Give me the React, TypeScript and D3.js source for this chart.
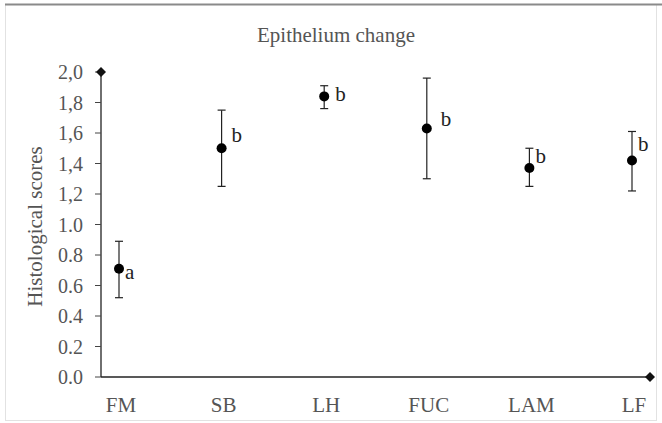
import React from "react";
import * as d3 from "d3";

const categories = ["FM", "SB", "LH", "FUC", "LAM", "LF"];
const means = [0.71, 1.5, 1.84, 1.63, 1.37, 1.42];
const lower = [0.52, 1.25, 1.76, 1.3, 1.25, 1.22];
const upper = [0.89, 1.75, 1.91, 1.96, 1.5, 1.61];
const letters = ["a", "b", "b", "b", "b", "b"];
const tickValues = [0, 0.2, 0.4, 0.6, 0.8, 1.0, 1.2, 1.4, 1.6, 1.8, 2.0];
const tickLabels = ["0.0", "0.2", "0.4", "0.6", "0.8", "1.0", "1,2", "1,4", "1,6", "1,8", "2,0"];
const title = "Epithelium change";
const yTitle = "Histological scores";

// letter offsets relative to dot (dx to left edge, dy to baseline)
const letterOffsets: [number, number][] = [
  [6, 10],
  [10, -6],
  [11, 5],
  [14, -2],
  [6, -5],
  [6, -9],
];

export default function App() {
  const W = 662, H = 423;
  const axisX = 101, axisRight = 650;
  const y = d3.scaleLinear().domain([0, 2]).range([377, 72]);
  const x = d3.scalePoint<string>().domain(categories).range([119, 632]);
  const font = "'Liberation Serif', 'Times New Roman', serif";
  const textColor = "#555";
  const diamond = (cx: number, cy: number, r: number) =>
    `M${cx},${cy - r}L${cx + r},${cy}L${cx},${cy + r}L${cx - r},${cy}Z`;

  return (
    <div style={{ position: "absolute", left: 0, top: 0 }}>
      <svg width={W} height={H} style={{ display: "block", background: "#fff" }}>
        {/* frame */}
        <rect x={5.5} y={4.5} width={651} height={416} fill="none" stroke="#e2e2e2" strokeWidth={1} />
        <line x1={5} x2={662} y1={4.5} y2={4.5} stroke="#8a8a8a" strokeWidth={2} />

        <text x={336} y={42} textAnchor="middle" fontFamily={font} fontSize={21} fill={textColor}>
          {title}
        </text>

        {/* y axis */}
        <line x1={axisX} x2={axisX} y1={y(2)} y2={y(0)} stroke="#222" strokeWidth={1.3} />
        {tickValues.map((t, i) => (
          <g key={t}>
            <line x1={axisX - 6} x2={axisX} y1={y(t)} y2={y(t)} stroke="#444" strokeWidth={1} />
            <text
              x={83}
              y={y(t) + 7}
              textAnchor="end"
              fontFamily={font}
              fontSize={20}
              fill={textColor}
            >
              {tickLabels[i]}
            </text>
          </g>
        ))}
        <path d={diamond(axisX, y(2), 5)} fill="#111" />

        {/* x axis */}
        <line x1={axisX} x2={axisRight} y1={y(0)} y2={y(0)} stroke="#222" strokeWidth={1.6} />
        <path d={diamond(axisRight, y(0), 5)} fill="#111" />
        {categories.map((c) => (
          <text
            key={c}
            x={x(c)! + 2}
            y={412}
            textAnchor="middle"
            fontFamily={font}
            fontSize={21}
            fill={textColor}
          >
            {c}
          </text>
        ))}

        <text
          transform={`translate(42,${(y(0) + y(2)) / 2 + 2}) rotate(-90)`}
          textAnchor="middle"
          fontFamily={font}
          fontSize={21}
          fill={textColor}
        >
          {yTitle}
        </text>

        {/* error bars and points */}
        {categories.map((c, i) => {
          const cx = x(c)!;
          return (
            <g key={c}>
              <line x1={cx} x2={cx} y1={y(lower[i])} y2={y(upper[i])} stroke="#222" strokeWidth={1.2} />
              <line x1={cx - 4} x2={cx + 4} y1={y(lower[i])} y2={y(lower[i])} stroke="#222" strokeWidth={1.2} />
              <line x1={cx - 4} x2={cx + 4} y1={y(upper[i])} y2={y(upper[i])} stroke="#222" strokeWidth={1.2} />
              <circle cx={cx} cy={y(means[i])} r={5} fill="#000" />
              <text
                x={cx + letterOffsets[i][0]}
                y={y(means[i]) + letterOffsets[i][1]}
                fontFamily={font}
                fontSize={21}
                fill="#222"
              >
                {letters[i]}
              </text>
            </g>
          );
        })}
      </svg>
    </div>
  );
}
